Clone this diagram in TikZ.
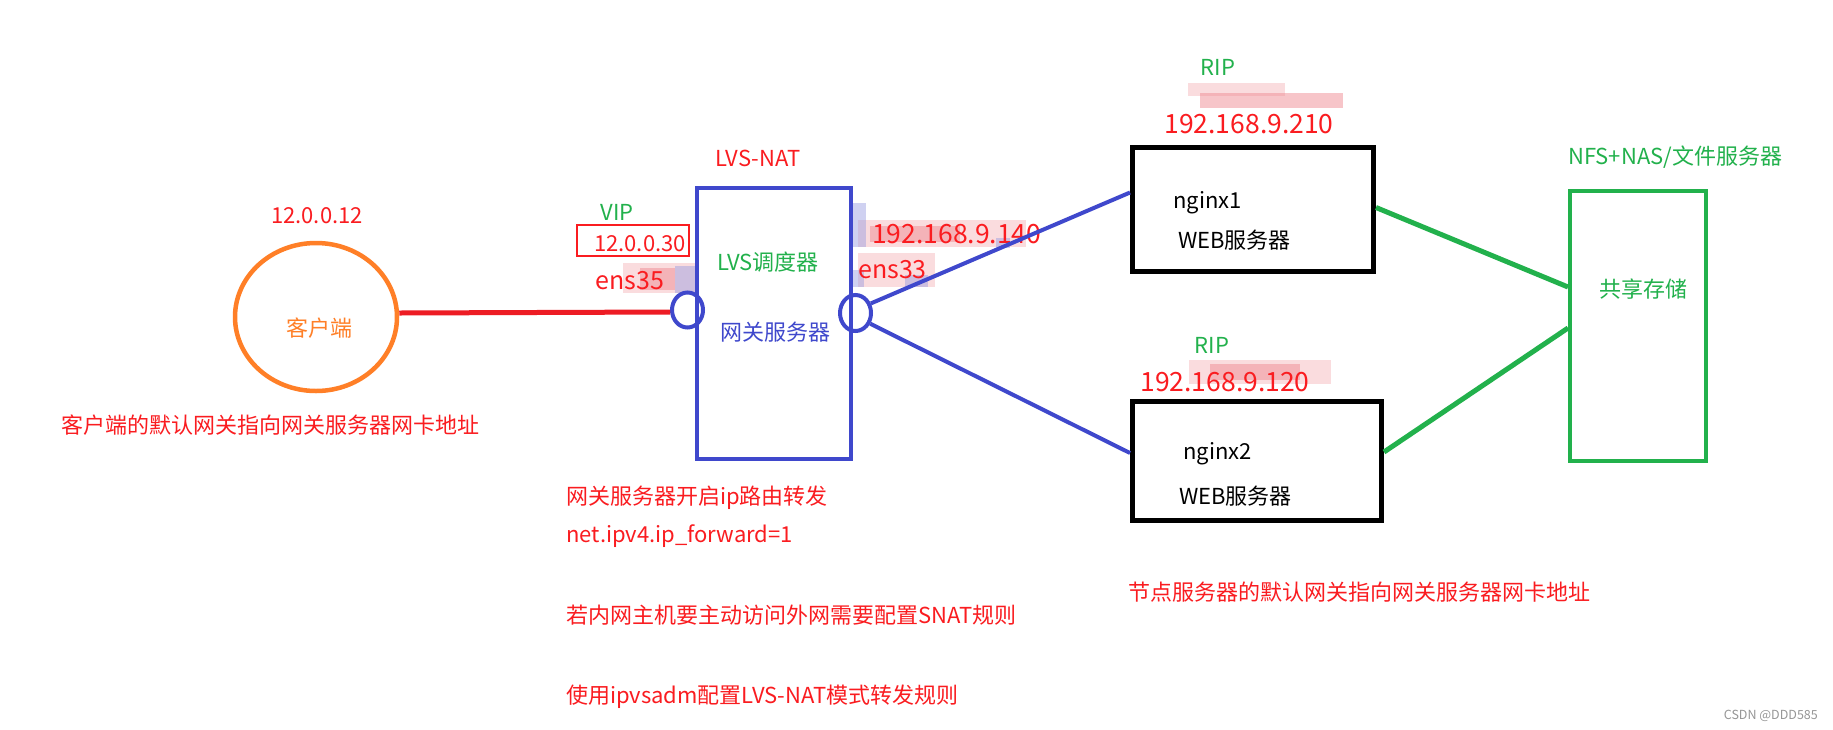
\documentclass[tikz,border=0pt]{standalone}
\usepackage{fontspec}
\setmainfont{Noto Sans CJK SC}
\usetikzlibrary{shapes.geometric}
\definecolor{tred}{RGB}{250,28,32}
\definecolor{lred}{RGB}{237,28,36}
\definecolor{pgreen}{RGB}{34,177,76}
\definecolor{pblue}{RGB}{63,72,204}
\definecolor{porange}{RGB}{255,127,39}
\definecolor{wmgray}{RGB}{150,150,150}
\definecolor{smpink}{RGB}{240,140,148}
\definecolor{smlav}{RGB}{150,155,225}
\tikzset{
  lbl/.style={inner sep=0pt, anchor=base, font=\fontsize{22}{26}\selectfont},
  lblw/.style={lbl, anchor=base west},
  big/.style={font=\fontsize{26.5}{30}\selectfont},
  mid/.style={font=\fontsize{25}{29}\selectfont},
  rt/.style={text=tred},
  gt/.style={text=pgreen},
  bt/.style={text=pblue},
  boxk/.style={draw=black, line width=5pt, inner sep=0pt},
  nic/.style={ellipse, draw=pblue, line width=4pt, inner sep=0pt, minimum width=31pt, minimum height=35pt},
  bluelink/.style={draw=pblue, line width=4pt},
  greenlink/.style={draw=pgreen, line width=5pt},
  smudge/.style={fill=smpink, fill opacity=0.3},
  smudgedk/.style={fill=smpink, fill opacity=0.5},
  smudgelav/.style={fill=smlav, fill opacity=0.45},
}
\begin{document}
\begin{tikzpicture}[x=1pt, y=-1pt]
\fill[white] (0,0) rectangle (1833,729);
\useasboundingbox (0,0) rectangle (1833,729);

% blurred smudges
\path[smudge] (1188,83) rectangle (1285,96);
\path[smudgedk] (1200,93) rectangle (1343,108);
\path[smudge] (1189,360) rectangle (1331,384);
\path[smudgedk] (1210,364) rectangle (1300,380);
\path[smudge] (858,220) rectangle (1026,247);
\path[smudgedk] (870,226) rectangle (960,242);
\path[smudgelav] (852,203) rectangle (866,247);
\path[smudgelav] (996,238) rectangle (1010,248);
\path[smudge] (858,253) rectangle (935,287);
\path[smudgelav] (852,270) rectangle (864,287);
\path[smudgelav] (905,275) rectangle (928,287);
\path[smudge] (623,263) rectangle (695,293);
\path[smudgedk] (640,268) rectangle (675,290);
\path[smudgelav] (675,266) rectangle (695,293);

% client
\node[ellipse, draw=porange, line width=4.5pt, minimum width=162pt, minimum height=148pt, inner sep=0pt] (client) at (316,317) {};
\node[lbl, text=porange] (clientlbl) at (319,336) {客户端};
\node[lbl, rt] (ip12) at (317,223) {12.0.0.12};
\node[lbl, rt] (clientnote) at (270.5,433) {客户端的默认网关指向网关服务器网卡地址};

% LVS box
\node[draw=pblue, line width=4pt, minimum width=154pt, minimum height=271pt, inner sep=0pt] (lvs) at (774,323.5) {};
\node[lbl, rt] (lvsnat) at (758,166) {LVS-NAT};
\node[lbl, gt] (sched) at (768,270) {LVS调度器};
\node[lbl, bt] (gw) at (775,340) {网关服务器};

% VIP side
\node[lbl, gt] (vip) at (617,220) {VIP};
\node[draw=tred, line width=1.5pt, minimum width=112pt, minimum height=31pt, inner sep=0pt] (vipbox) at (633,240.5) {};
\node[lbl, rt] (vipip) at (640,251) {12.0.0.30};
\node[lbl, mid, rt] (ens35) at (630,289) {ens35};
\node[nic] (nicL) at (687.5,310) {};

% inner side
\node[nic, minimum height=36pt] (nicR) at (855.5,313) {};
\node[lblw, big, rt] (ip140) at (872,243) {192.168.9.140};
\node[lblw, mid, rt] (ens33) at (858,278) {ens33};

% nginx1
\node[boxk, minimum width=241pt, minimum height=124pt] (n1) at (1253,209.5) {};
\node[lbl, gt] (rip1) at (1218,75) {RIP};
\node[lbl, big, rt] (ip210) at (1249,133) {192.168.9.210};
\node[lblw] (nginx1) at (1173,208) {nginx1};
\node[lblw] (web1) at (1178,248) {WEB服务器};

% nginx2
\node[boxk, minimum width=249pt, minimum height=119pt] (n2) at (1257,461) {};
\node[lbl, gt] (rip2) at (1212,353) {RIP};
\node[lbl, big, rt] (ip120) at (1225,391) {192.168.9.120};
\node[lblw] (nginx2) at (1183,459) {nginx2};
\node[lblw] (web2) at (1179,504) {WEB服务器};
\node[lblw, rt] (nodenote) at (1128,600) {节点服务器的默认网关指向网关服务器网卡地址};

% NFS
\node[draw=pgreen, line width=4pt, minimum width=136pt, minimum height=270pt, inner sep=0pt] (nfs) at (1638,326) {};
\node[lblw, gt] (nfslabel) at (1568,164) {NFS+NAS/文件服务器};
\node[lbl, gt] (share) at (1643,297) {共享存储};

% notes
\node[lblw, rt] (note1) at (566,504) {网关服务器开启ip路由转发};
\node[lblw, rt] (note2) at (566,542) {net.ipv4.ip\_forward=1};
\node[lblw, rt] (note3) at (566,623) {若内网主机要主动访问外网需要配置SNAT规则};
\node[lblw, rt] (note4) at (566,703) {使用ipvsadm配置LVS-NAT模式转发规则};

\node[inner sep=0pt, anchor=base east, text=wmgray, font=\fontsize{12.5}{14}\selectfont] (csdn) at (1818,719) {CSDN @DDD585};

% connectors
\draw[lred, line width=5pt] ([yshift=4pt]client.east) -- ([yshift=-2pt]nicL.west);
\draw[bluelink] (nicR.32) -- ([yshift=17pt]n1.west);
\draw[bluelink] (nicR.-36) -- ([yshift=8pt]n2.west);
\draw[greenlink] ([yshift=2pt]n1.east) -- ([yshift=39pt]nfs.west);
\draw[greenlink] ([yshift=9pt]n2.east) -- ([yshift=-2pt]nfs.west);
\end{tikzpicture}
\end{document}
